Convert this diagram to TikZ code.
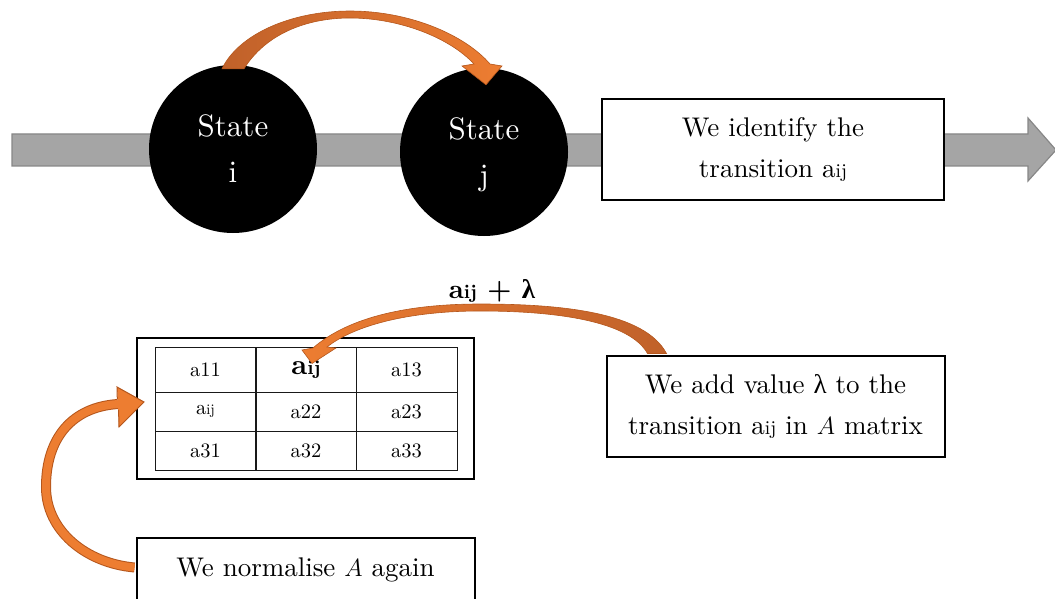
\documentclass[tikz,border=0pt]{standalone}
\usepackage{fontspec}
\setmainfont{lmroman10-regular.otf}[BoldFont=lmroman10-bold.otf,ItalicFont=lmroman10-italic.otf]
\newfontfamily\grk{Liberation Serif}
\usetikzlibrary{calc}

\definecolor{barfill}{HTML}{A5A5A5}
\definecolor{barline}{HTML}{878787}
\definecolor{org}{HTML}{ED7D31}
\definecolor{orgdark}{HTML}{C0612A}
\definecolor{orgedge}{HTML}{B4561C}

% "a" followed by a smaller "ij"
\newcommand\aij[1]{a{\fontsize{#1}{#1}\selectfont ij}}

\tikzset{
  state/.style={circle, fill=black, text=white, minimum size=168pt, inner sep=0pt,
    font=\fontsize{31}{46}\selectfont, align=center, text depth=0pt},
  textbox/.style={draw=black, line width=2pt, fill=white, inner sep=0pt,
    font=\fontsize{27}{41}\selectfont, align=center},
  cell/.style={draw=black!90, line width=1pt, minimum width=101pt, inner sep=0pt,
    font=\fontsize{20.5}{20.5}\selectfont},
  flowbar/.style={fill=barfill, draw=barline, line width=1.2pt},
  ribbon/.style={draw=orgedge, line width=0.6pt},
}

\begin{document}
\begin{tikzpicture}[x=1pt,y=-1pt]
\useasboundingbox (0,0) rectangle (1055,599);
\clip (0,0) rectangle (1055,599);

% timeline arrow behind the states
\draw[flowbar] (12,134) -- (1028,134) -- (1028,118) -- (1056,150) -- (1028,181)
  -- (1028,166) -- (12,166) -- cycle;

% states
\node[state] (si) at (233,149) {State\\i};
\node[state] (sj) at (484,152) {State\\j};

% first step
\node[textbox, minimum width=342pt, minimum height=101pt] (b1) at (773,149.5)
  {We identify the\\transition \aij{19.5}};

% transition i -> j
\coordinate (A1o) at ($(si.north)+(-11,4)$);
\coordinate (A1i) at ($(si.north)+(11,4)$);
\coordinate (A1t) at ($(sj.north)+(2,17)$);
\path[ribbon, left color=orgdark, right color=org]
  (A1o) .. controls (238,35) and (290,11) .. (350,11)
        .. controls (410,11) and (465,35) .. (490,64)
  -- (502,66) -- (A1t) -- (462,66) -- (474,64)
        .. controls (450,38) and (400,18) .. (350,18)
        .. controls (305,18) and (265,35) .. (A1i) -- cycle;

% transition matrix
\node[draw=black, line width=2pt, minimum width=337pt, minimum height=141pt, inner sep=0pt]
  (mt) at (305.5,408.5) {};
\node[cell, minimum height=45pt] (c11) at (205.5,369.5) {a11};
\node[cell, minimum height=45pt] (c12) at (306,369.5)
  {\fontsize{28.5}{28.5}\selectfont\bfseries a{\fontsize{20}{20}\selectfont ij}};
\node[cell, minimum height=45pt] (c13) at (406.5,369.5) {a13};
\node[cell, minimum height=39pt] (c21) at (205.5,411.5) {\aij{14.5}};
\node[cell, minimum height=39pt] (c22) at (306,411.5) {a22};
\node[cell, minimum height=39pt] (c23) at (406.5,411.5) {a23};
\node[cell, minimum height=39pt] (c31) at (205.5,450.5) {a31};
\node[cell, minimum height=39pt] (c32) at (306,450.5) {a32};
\node[cell, minimum height=39pt] (c33) at (406.5,450.5) {a33};

% second step, with the update of a_ij
\node[textbox, minimum width=338pt, minimum height=101pt] (b2) at (775.5,406)
  {We add value {\grk λ} to the\\transition \aij{19.5} in $A$ matrix};
\coordinate (A2o) at ($(b2.north west)+(42,-1)$);
\coordinate (A2i) at ($(b2.north west)+(61,-1)$);
\coordinate (A2t) at ($(c12.north)+(6,17)$);
\path[ribbon, left color=org, right color=orgdark]
  (A2i) .. controls (645,313) and (565,304) .. (480,304)
        .. controls (400,304) and (345,320) .. (313,348)
  -- (302,350) -- (A2t) -- (336,348) -- (327,347)
        .. controls (355,325) and (410,311) .. (480,311)
        .. controls (560,311) and (630,322) .. (A2o) -- cycle;
\node[font=\fontsize{27}{27}\selectfont\bfseries] (lab) at (492,291)
  {a{\fontsize{19.5}{19.5}\selectfont ij} + {\grk\bfseries λ}};

% normalisation loop back to the matrix
\node[textbox, minimum width=338pt, minimum height=64pt] (b3) at (305.5,570) {};
\coordinate (A3s) at ($(b3.west)+(-1,-2.5)$);
\coordinate (A3t) at ($(mt.west)+(8,-6.5)$);
\draw[line width=1pt, draw=orgedge, double=org, double distance=8pt]
  (A3s) .. controls (85,563) and (46,530) .. (46,487)
        .. controls (46,438) and (72,407) .. (118,404);
\fill[org] (117,387) -- (A3t) -- (119,427) -- cycle;
\draw[orgedge, line width=1pt, line join=miter]
  (117.3,399) -- (117,387) -- (A3t) -- (119,427) -- (118.6,410);
\node[textbox, minimum width=338pt, minimum height=64pt] at (b3.center)
  {We normalise $A$ again};
\end{tikzpicture}
\end{document}
